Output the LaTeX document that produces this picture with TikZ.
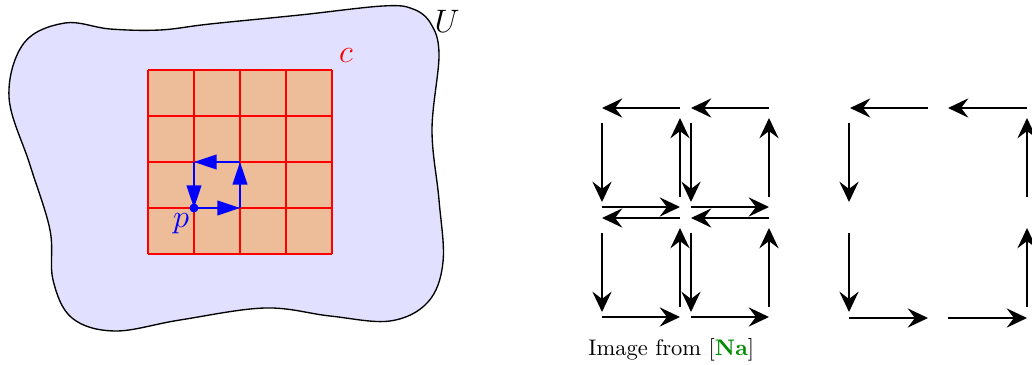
\documentclass[tikz,border=0pt]{standalone}
\usepackage{amsmath,amssymb}
\usetikzlibrary{positioning,arrows.meta}
\definecolor{RegionBlue}{RGB}{225,225,255}
\definecolor{CubeFill}{RGB}{237,189,153}
\definecolor{CiteGreen}{RGB}{0,140,0}

\tikzset{
	cellarrow/.style={line width=.95pt,-{Stealth[length=9pt,width=8.5pt,inset=3.2pt]}},
	patharrow/.style={blue,thick,-{Triangle[length=10pt,width=6.5pt]}},
	gridline/.style={red,semithick}
}

\begin{document}
\begin{tikzpicture}[x=0.0156cm,y=-0.0156cm]
			
			\useasboundingbox (0,0) rectangle (1032,365);
			
			% the open set U
			\draw[fill=RegionBlue,line width=.6pt]
			plot[smooth cycle,tension=.6] coordinates {
				(24,43) (65,23) (110,29) (160,30) (210,24) (300,15) (383,6) (413,9)
				(431,24) (439,55) (432,130) (439,200) (443,262) (428,302)
				(390,321) (330,316) (265,308) (180,320) (115,331) (72,318)
				(53,280) (50,230) (30,165) (9,97)
			};
			
			% the cube c
			\fill[CubeFill] (148,70) rectangle (332,254);
			\foreach \k in {0,1,2,3,4}{
				\draw[gridline] (148+46*\k,70) -- (148+46*\k,254);
				\draw[gridline] (148,70+46*\k) -- (332,70+46*\k);
			}
			
			\node[red,font=\Large] (c) at (346,56) {$c$};
			\node[font=\Large] (U) at (447,21) {$U$};
			
			% the small loop at p
			\coordinate (p) at (194,208);
			\coordinate (q) at (240,208);
			\coordinate (r) at (240,162);
			\coordinate (s) at (194,162);
			\draw[patharrow] (p) -- (q);
			\draw[patharrow] (q) -- (r);
			\draw[patharrow] (r) -- (s);
			\draw[patharrow] (s) -- (p);
			\fill[blue] (p) circle (2pt);
			\node[blue,font=\Large] (plabel) at (181,224) {$p$};
			
			% four small loops
			\foreach \cx/\cy/\n in {602/108/a,691/108/b,602/218/c,691/218/d}{
				\coordinate (\n1) at (\cx+78,\cy);
				\coordinate (\n2) at (\cx,\cy);
				\coordinate (\n3) at (\cx,\cy+15);
				\coordinate (\n4) at (\cx,\cy+94);
				\coordinate (\n5) at (\cx,\cy+99);
				\coordinate (\n6) at (\cx+78,\cy+99);
				\coordinate (\n7) at (\cx+78,\cy+89);
				\coordinate (\n8) at (\cx+78,\cy+10);
				\draw[cellarrow] (\n1) -- (\n2);
				\draw[cellarrow] (\n3) -- (\n4);
				\draw[cellarrow] (\n5) -- (\n6);
				\draw[cellarrow] (\n7) -- (\n8);
			}
			
			% the big loop
			\coordinate (t1) at (928,108);
			\coordinate (t2) at (850,108);
			\coordinate (t3) at (1027,108);
			\coordinate (t4) at (948,108);
			\coordinate (l1) at (849,123);
			\coordinate (l2) at (849,202);
			\coordinate (l3) at (849,233);
			\coordinate (l4) at (849,312);
			\coordinate (b1) at (849,318);
			\coordinate (b2) at (928,318);
			\coordinate (b3) at (948,318);
			\coordinate (b4) at (1027,318);
			\coordinate (r1) at (1027,307);
			\coordinate (r2) at (1027,228);
			\coordinate (r3) at (1027,197);
			\coordinate (r4) at (1027,118);
			\draw[cellarrow] (t1) -- (t2);
			\draw[cellarrow] (t3) -- (t4);
			\draw[cellarrow] (l1) -- (l2);
			\draw[cellarrow] (l3) -- (l4);
			\draw[cellarrow] (b1) -- (b2);
			\draw[cellarrow] (b3) -- (b4);
			\draw[cellarrow] (r1) -- (r2);
			\draw[cellarrow] (r3) -- (r4);
			
			\node[anchor=base west,inner sep=0pt] (src) at (588,356)
			{Image from [\textcolor{CiteGreen}{\textbf{Na}}]};
			
\end{tikzpicture}
\end{document}
